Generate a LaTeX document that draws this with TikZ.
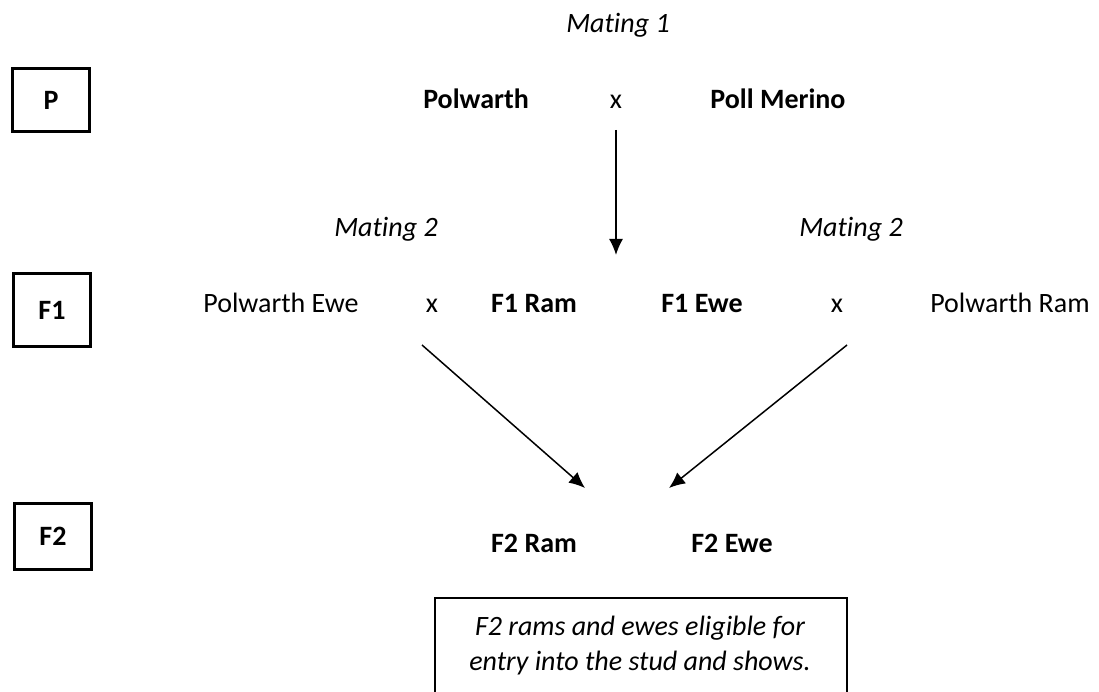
\documentclass[tikz,border=0pt]{standalone}
\usepackage{fontspec}
\setmainfont{Carlito}[Ligatures=CommonOff]
\usetikzlibrary{arrows.meta}

\tikzset{
  gen/.style={draw, line width=1.2pt, minimum width=30.8pt, minimum height=25.5pt,
    inner sep=0pt, font=\fontsize{11.2}{14}\selectfont\bfseries},
  breed/.style={anchor=base, font=\fontsize{11.2}{14}\selectfont\bfseries},
  stock/.style={anchor=base, font=\fontsize{11.2}{14}\selectfont},
  mate/.style={anchor=base, font=\fontsize{11.2}{14}\selectfont\itshape},
  arr/.style={-{Latex[length=6.4pt, width=5.6pt]}, line width=0.6pt}
}

\begin{document}
\begin{tikzpicture}[x=0.4pt, y=-0.4pt]

\useasboundingbox (0,0) rectangle (1099,692);

% generation labels
\node[gen] (P)  at (51,100) {P};
\node[gen, minimum height=28.8pt] (F1) at (52,310) {F1};
\node[gen, minimum height=26.4pt] (F2) at (53,536) {F2};

% mating 1
\node[mate]  (mate1)  at (618,33)  {Mating 1};
\node[breed] (polw)   at (476,109) {Polwarth};
\node[stock] (xp)     at (616,109) {x};
\node[breed] (merino) at (778,109) {Poll Merino};

% mating 2
\node[mate]  (mate2l) at (386,237)  {Mating 2};
\node[mate]  (mate2r) at (851,237)  {Mating 2};
\node[stock] (pewe)   at (281,313)  {Polwarth Ewe};
\node[stock] (xl)     at (432,313)  {x};
\node[breed] (f1ram)  at (534,313)  {F1 Ram};
\node[breed] (f1ewe)  at (702,313)  {F1 Ewe};
\node[stock] (xr)     at (837,313)  {x};
\node[stock] (pram)   at (1010,313) {Polwarth Ram};

% offspring
\node[breed] (f2ram) at (534,552) {F2 Ram};
\node[breed] (f2ewe) at (732,552) {F2 Ewe};

\coordinate (f1in)  at (616,255);
\coordinate (ramin) at (585,488);
\coordinate (ewein) at (669,488);

\draw[arr] ([yshift=-8.4pt]xp.base) -- (f1in);
\draw[arr] ([xshift=-4pt, yshift=-12.8pt]xl.base) -- (ramin);
\draw[arr] ([xshift=4pt, yshift=-12.8pt]xr.base) -- (ewein);

% note
\draw[line width=0.5pt] (435,598) rectangle (847,720);
\node[mate, align=center, anchor=base] (note) at (640,670)
  {F2 rams and ewes eligible for\\entry into the stud and shows.};

\end{tikzpicture}
\end{document}
